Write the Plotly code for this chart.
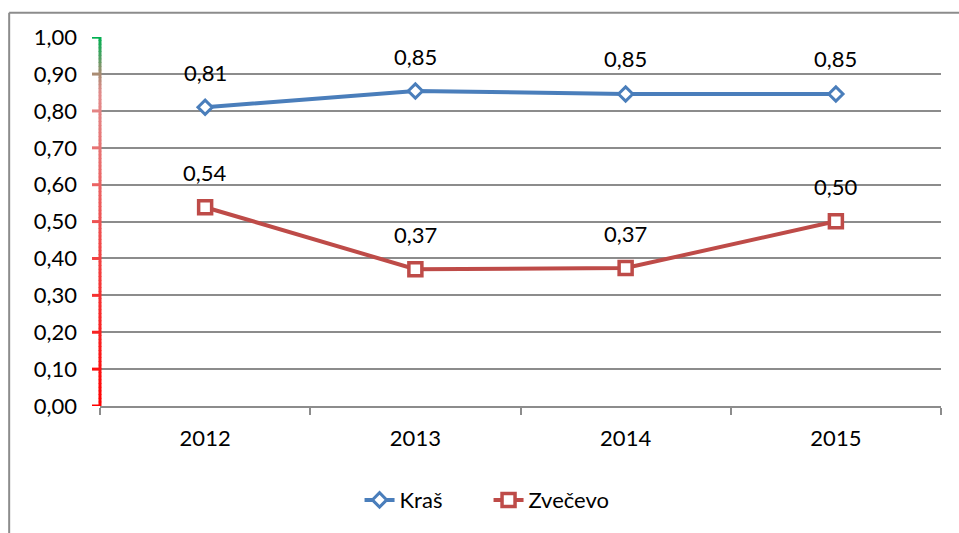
import plotly.graph_objects as go

years = ["2012", "2013", "2014", "2015"]
kras = [0.81, 0.854, 0.846, 0.846]
zvecevo = [0.539, 0.371, 0.374, 0.501]
kras_labels = ["0,81", "0,85", "0,85", "0,85"]
zvecevo_labels = ["0,54", "0,37", "0,37", "0,50"]
y_ticks = [0.0, 0.1, 0.2, 0.3, 0.4, 0.5, 0.6, 0.7, 0.8, 0.9, 1.0]

FONT = "Lato"
BLUE = "#4A7EBB"
RED = "#BE4B48"
GRID = "#8C8C8C"

# colour of the y axis line: red at the bottom fading to green at the top
stops = [(0.0, (255, 0, 0)), (0.85, (226, 140, 140)), (0.9, (170, 140, 115)),
         (0.95, (70, 160, 95)), (1.0, (0, 176, 80))]


def axis_colour(v):
    for (a, ca), (b, cb) in zip(stops, stops[1:]):
        if a <= v <= b:
            t = (v - a) / (b - a) if b > a else 0
            c = [round(ca[i] + (cb[i] - ca[i]) * t) for i in range(3)]
            return f"rgb({c[0]},{c[1]},{c[2]})"
    return "rgb(0,176,80)"


fig = go.Figure()
fig.add_trace(go.Scatter(
    x=years, y=kras, name="Kraš", mode="lines+markers",
    line=dict(color=BLUE, width=4),
    marker=dict(symbol="diamond", size=11, color="white",
                line=dict(color=BLUE, width=3)),
))
fig.add_trace(go.Scatter(
    x=years, y=zvecevo, name="Zvečevo", mode="lines+markers",
    line=dict(color=RED, width=4),
    marker=dict(symbol="square", size=13, color="white",
                line=dict(color=RED, width=3.5)),
))

for vals, labels in [(kras, kras_labels), (zvecevo, zvecevo_labels)]:
    for i, (y, t) in enumerate(zip(vals, labels)):
        fig.add_annotation(x=i, y=y, xref="x", yref="y", text=t,
                           showarrow=False, yshift=35,
                           font=dict(family=FONT, size=22, color="black"))

shapes = []
n = 100
for i in range(n):
    y0 = i / n
    y1 = (i + 1) / n
    shapes.append(dict(type="line", xref="paper", yref="y", x0=0, x1=0,
                       y0=y0, y1=y1 + 0.002,
                       line=dict(color=axis_colour((y0 + y1) / 2), width=3)))
for v in y_ticks:
    shapes.append(dict(type="line", xref="paper", yref="y", x0=-0.0095, x1=0,
                       y0=v, y1=v, line=dict(color=axis_colour(v), width=3)))

# chart border (left and top edges), right and bottom run off the picture
shapes.append(dict(type="line", xref="paper", yref="paper",
                   x0=-0.108, x1=-0.108, y0=-0.4, y1=1.066,
                   line=dict(color="#8C8C8C", width=2)))
shapes.append(dict(type="line", xref="paper", yref="paper",
                   x0=-0.108, x1=1.05, y0=1.066, y1=1.066,
                   line=dict(color="#8C8C8C", width=2)))

fig.update_layout(
    width=959, height=533,
    margin=dict(l=100, r=18, t=37, b=127),
    paper_bgcolor="white", plot_bgcolor="white",
    separators=", ",
    font=dict(family=FONT, size=22, color="black"),
    shapes=shapes,
    showlegend=True,
    legend=dict(orientation="h", x=0.462, xanchor="center", y=-0.255,
                yanchor="middle", font=dict(family=FONT, size=22),
                entrywidth=84, entrywidthmode="pixels", tracegroupgap=0),
    xaxis=dict(type="category", range=[-0.5, 3.5], showgrid=False, showline=True,
               linecolor=GRID, linewidth=2, ticks="outside", tickson="boundaries",
               ticklen=7, tickwidth=2, tickcolor=GRID, ticklabelstandoff=12,
               tickfont=dict(family=FONT, size=22)),
    yaxis=dict(range=[0, 1.0005], tickvals=y_ticks, tickformat=".2f",
               showgrid=True, gridcolor=GRID, gridwidth=1.6, zeroline=False,
               showline=False, ticks="", ticklabelstandoff=22,
               tickfont=dict(family=FONT, size=22)),
)

fig.write_html("out.html", config={"displayModeBar": False},
               post_script="document.body.style.margin='0';")
